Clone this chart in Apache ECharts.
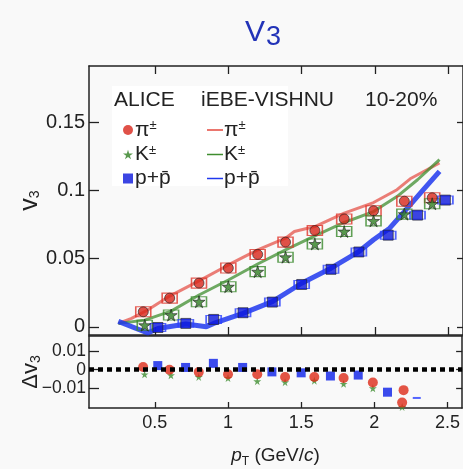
<!DOCTYPE html>
<html>
<head>
<meta charset="utf-8">
<script src="https://cdn.jsdelivr.net/npm/echarts@6/dist/echarts.min.js"></script>
<style>
  html, body { margin: 0; padding: 0; background: #f9f9f9; }
  #chart { width: 463px; height: 469px; }
</style>
</head>
<body>
<div id="chart"></div>
<script>
// ALICE data (10-20%), v3 vs pT
const pionPt = [0.42, 0.6, 0.8, 1.0, 1.2, 1.39, 1.59, 1.79, 1.99, 2.2, 2.39]
const pionV3 = [0.011, 0.021, 0.032, 0.043, 0.053, 0.062, 0.0705, 0.079, 0.085, 0.092, 0.0945]
const kaonPt = [0.43, 0.61, 0.8, 1.0, 1.2, 1.39, 1.59, 1.79, 1.99, 2.2, 2.39]
const kaonV3 = [0.0012, 0.0086, 0.0184, 0.0294, 0.0404, 0.051, 0.0607, 0.0698, 0.0776, 0.0825, 0.0901]
const protonPt = [0.52, 0.71, 0.9, 1.1, 1.3, 1.5, 1.7, 1.89, 2.09, 2.29, 2.48]
const protonV3 = [-0.0005, 0.0025, 0.0054, 0.0103, 0.0181, 0.031, 0.0421, 0.0548, 0.0671, 0.0818, 0.0928]

// iEBE-VISHNU curves
const hydroPionPt = [0.25, 0.34, 0.45, 0.6, 0.8, 1.0, 1.2, 1.39, 1.45, 1.59, 1.79, 1.99, 2.15, 2.24, 2.44]
const hydroPionV3 = [0.0025, 0.0062, 0.0123, 0.0225, 0.0336, 0.0453, 0.0563, 0.0649, 0.0698, 0.0734, 0.0833, 0.091, 0.1004, 0.1084, 0.12]
const hydroKaonPt = [0.25, 0.43, 0.61, 0.8, 1.0, 1.2, 1.39, 1.59, 1.79, 1.99, 2.15, 2.29, 2.44]
const hydroKaonV3 = [0.0025, 0.0049, 0.0115, 0.0233, 0.0343, 0.046, 0.0563, 0.0666, 0.0764, 0.0844, 0.0954, 0.1077, 0.1224]
const hydroProtonPt = [0.25, 0.45, 0.52, 0.71, 0.85, 0.9, 1.1, 1.3, 1.5, 1.7, 1.89, 1.99, 2.1, 2.2, 2.33, 2.44]
const hydroProtonV3 = [0.004, -0.0045, -0.0012, 0.002, 0.0, 0.0025, 0.0098, 0.0184, 0.0319, 0.0429, 0.0551, 0.0637, 0.0722, 0.0844, 0.1004, 0.1138]

// lower panel: data - model
const dPionPt = [0.42, 0.6, 0.8, 1.0, 1.2, 1.39, 1.59, 1.79, 1.99, 2.2, 2.19]
const dPion = [0.0014, 0.0, -0.0013, -0.0025, -0.0025, -0.0039, -0.0039, -0.0045, -0.0069, -0.011, -0.0177]
const dKaonPt = [0.43, 0.61, 0.8, 1.0, 1.2, 1.39, 1.59, 1.79, 1.99, 2.19]
const dKaon = [-0.0025, -0.003, -0.0039, -0.0045, -0.0062, -0.0067, -0.0059, -0.0076, -0.010, -0.020]
const dProtonPt = [0.52, 0.71, 0.9, 1.1, 1.3, 1.5, 1.7, 1.89, 2.09]
const dProton = [0.0022, 0.0012, 0.0034, 0.0012, -0.0012, -0.0017, -0.0034, -0.0029, -0.0121]
const dProtonDashPt = [2.29]
const dProtonDash = [-0.0152]

// ticks
const xTicks = [0.5, 1, 1.5, 2, 2.5]
const yTicks = [0, 0.05, 0.1, 0.15]
const dyTicks = [-0.01, 0, 0.01]

const zip = (xs, ys) => xs.map((x, i) => [x, ys[i]])
const STAR = 'path://M50,0 L61,35 L98,35 L68,57 L79,91 L50,70 L21,91 L32,57 L2,35 L39,35 Z'
const FONT = 'Liberation Sans'
const AXC = '#222'

const red = '#d8261a'
const green = '#2f7f22'
const blue = '#0b17dc'

let chart = echarts.init(document.getElementById('chart'))

let xBase = {
  type: 'value', min: 0.05, max: 2.6,
  axisLine: { show: true, onZero: false, lineStyle: { color: AXC, width: 1.5 } },
  axisTick: { show: true, inside: true, length: 8, customValues: xTicks, lineStyle: { color: AXC, width: 1.3 } },
  axisLabel: { show: false },
  splitLine: { show: false }
}
let yBase = {
  type: 'value',
  axisLine: { show: true, onZero: false, lineStyle: { color: AXC, width: 1.5 } },
  axisTick: { show: true, inside: true, length: 10, lineStyle: { color: AXC, width: 1.3 } },
  axisLabel: { show: false },
  splitLine: { show: false }
}
function minus(v) {
  return String(v).replace('-', '\u2212')
}
// legend labels with superscripts
const legendRich = {
  b: { fontFamily: FONT, fontSize: 21, color: '#222' },
  sup: { fontFamily: FONT, fontSize: 13, color: '#222', padding: [0, 0, 9, 0] }
}
const labelOf = {
  pi: '{b|\u03c0}{sup|\u00b1}',
  K: '{b|K}{sup|\u00b1}',
  p: '{b|p+p\u0304}'
}

let option = {
  backgroundColor: '#f9f9f9',
  animation: false,
  title: {
    text: '{v|V}{s|3}',
    left: 240, top: 9,
    textStyle: {
      rich: {
        v: { fontFamily: FONT, fontSize: 30, fontWeight: 'normal', color: '#2233b8' },
        s: { fontFamily: FONT, fontSize: 27, fontWeight: 'normal', color: '#2233b8', padding: [10, 0, 0, 1] }
      }
    }
  },
  grid: [
    { left: 89, top: 66, width: 378, height: 269 },
    { left: 89, top: 336, width: 378, height: 77 }
  ],
  xAxis: [
    Object.assign({}, xBase, { gridIndex: 0, position: 'bottom' }),
    Object.assign({}, xBase, { gridIndex: 0, position: 'top' }),
    Object.assign({}, xBase, {
      gridIndex: 1, position: 'bottom',
      axisTick: Object.assign({}, xBase.axisTick, { length: 6 }),
      axisLabel: { show: true, customValues: xTicks, margin: 6, fontFamily: FONT, fontSize: 18, color: '#222' },
      name: '{i|p}{sub|T}{n| (GeV/}{i|c}{n|)}',
      nameLocation: 'middle', nameGap: 36,
      nameTextStyle: {
        rich: {
          i: { fontFamily: FONT, fontSize: 19, fontStyle: 'italic', color: '#222' },
          n: { fontFamily: FONT, fontSize: 19, color: '#222' },
          sub: { fontFamily: FONT, fontSize: 12, color: '#222', padding: [12, 0, 0, 0] }
        }
      }
    }),
    Object.assign({}, xBase, { gridIndex: 1, position: 'top', axisTick: { show: false } })
  ],
  yAxis: [
    Object.assign({}, yBase, {
      gridIndex: 0, position: 'left', min: -0.006, max: 0.191,
      axisTick: Object.assign({}, yBase.axisTick, { customValues: yTicks }),
      axisLabel: { show: true, customValues: yTicks, margin: 4, fontFamily: FONT, fontSize: 20, color: '#222' },
      name: '{v|v}{s|3}', nameLocation: 'middle', nameRotate: 90, nameGap: 46, nameMoveOverlap: false,
      nameTextStyle: {
        rich: {
          v: { fontFamily: FONT, fontSize: 25, color: '#222' },
          s: { fontFamily: FONT, fontSize: 14, color: '#222', padding: [10, 0, 0, 0] }
        }
      }
    }),
    Object.assign({}, yBase, {
      gridIndex: 0, position: 'right', min: -0.006, max: 0.191,
      axisTick: Object.assign({}, yBase.axisTick, { customValues: yTicks, length: 6 })
    }),
    Object.assign({}, yBase, {
      gridIndex: 1, position: 'left', min: -0.0206, max: 0.0181,
      axisTick: Object.assign({}, yBase.axisTick, { customValues: dyTicks }),
      axisLabel: { show: true, customValues: dyTicks, margin: 3, fontFamily: FONT, fontSize: 17.5, color: '#222', formatter: minus },
      name: '{v|\u0394v}{s|3}', nameLocation: 'middle', nameRotate: 90, nameGap: 46, nameMoveOverlap: false,
      nameTextStyle: {
        rich: {
          v: { fontFamily: FONT, fontSize: 22, color: '#222' },
          s: { fontFamily: FONT, fontSize: 14, color: '#222', padding: [10, 0, 0, 0] }
        }
      }
    }),
    Object.assign({}, yBase, {
      gridIndex: 1, position: 'right', min: -0.0206, max: 0.0181,
      axisTick: Object.assign({}, yBase.axisTick, { customValues: dyTicks, length: 6 })
    })
  ],
  legend: [
    {
      data: ['ALICE pi', 'ALICE K', 'ALICE p'],
      orient: 'vertical', left: 118, top: 114,
      itemWidth: 10, itemHeight: 10, itemGap: 3,
      itemStyle: { borderWidth: 0 },
      formatter: name => labelOf[name.split(' ')[1]],
      textStyle: { fontFamily: FONT, fontSize: 21, color: '#222', lineHeight: 21, padding: [0, 0, 0, -3], rich: legendRich }
    },
    {
      data: ['VISHNU pi', 'VISHNU K', 'VISHNU p'],
      orient: 'vertical', left: 202, top: 114,
      icon: 'rect', itemWidth: 16, itemHeight: 1.5, itemGap: 3,
      formatter: name => labelOf[name.split(' ')[1]],
      textStyle: { fontFamily: FONT, fontSize: 21, color: '#222', lineHeight: 21, padding: [0, 0, 0, -4], rich: legendRich }
    }
  ],
  graphic: [
    { type: 'rect', z: 0, shape: { x: 112, y: 86, width: 176, height: 100 }, style: { fill: '#ffffff' } },
    { type: 'text', z: 5, x: 114, y: 90, style: { text: 'ALICE', font: '21px "Liberation Sans"', fill: '#222' } },
    { type: 'text', z: 5, x: 201, y: 90, style: { text: 'iEBE-VISHNU', font: '21px "Liberation Sans"', fill: '#222' } },
    { type: 'text', z: 5, x: 365, y: 90, style: { text: '10-20%', font: '21px "Liberation Sans"', fill: '#222' } }
  ],
  series: [
    // model curves
    { name: 'VISHNU pi', type: 'line', xAxisIndex: 0, yAxisIndex: 0, data: zip(hydroPionPt, hydroPionV3), symbol: 'none', color: '#e4493e', lineStyle: { width: 3, opacity: 0.7 }, z: 1 },
    { name: 'VISHNU K', type: 'line', xAxisIndex: 0, yAxisIndex: 0, data: zip(hydroKaonPt, hydroKaonV3), symbol: 'none', color: '#3f8d2f', lineStyle: { width: 3, opacity: 0.75 }, z: 1 },
    { name: 'VISHNU p', type: 'line', xAxisIndex: 0, yAxisIndex: 0, data: zip(hydroProtonPt, hydroProtonV3), symbol: 'none', color: '#2038ee', lineStyle: { width: 5, opacity: 0.85 }, z: 1 },
    // systematic boxes
    { type: 'scatter', xAxisIndex: 0, yAxisIndex: 0, data: zip(pionPt, pionV3), symbol: 'rect', symbolSize: [15, 10], itemStyle: { color: 'rgba(0,0,0,0)', borderColor: '#e0352a', borderWidth: 1.3 }, z: 2 },
    { type: 'scatter', xAxisIndex: 0, yAxisIndex: 0, data: zip(kaonPt, kaonV3), symbol: 'rect', symbolSize: [15, 10], itemStyle: { color: 'rgba(0,0,0,0)', borderColor: '#3a8a2c', borderWidth: 1.3 }, z: 2 },
    { type: 'scatter', xAxisIndex: 0, yAxisIndex: 0, data: zip(protonPt, protonV3), symbol: 'rect', symbolSize: [15, 8], itemStyle: { color: 'rgba(0,0,0,0)', borderColor: '#2a40ff', borderWidth: 1.3 }, z: 2 },
    // data points
    { name: 'ALICE pi', type: 'scatter', xAxisIndex: 0, yAxisIndex: 0, data: zip(pionPt, pionV3), symbol: 'circle', symbolSize: 10, color: red, itemStyle: { borderColor: '#222', borderWidth: 0.8 }, z: 3 },
    { name: 'ALICE K', type: 'scatter', xAxisIndex: 0, yAxisIndex: 0, data: zip(kaonPt, kaonV3), symbol: STAR, symbolSize: 12, color: green, itemStyle: { borderColor: '#222', borderWidth: 0.8 }, z: 3 },
    { name: 'ALICE p', type: 'scatter', xAxisIndex: 0, yAxisIndex: 0, data: zip(protonPt, protonV3), symbol: 'rect', symbolSize: 10, color: blue, itemStyle: { borderColor: '#222', borderWidth: 0.8 }, z: 3 },
    // lower panel
    {
      type: 'line', xAxisIndex: 2, yAxisIndex: 2, data: [], symbol: 'none',
      markLine: {
        silent: true, symbol: 'none', label: { show: false },
        lineStyle: { color: '#000', width: 4.5, type: [5, 4] },
        data: [{ yAxis: 0 }]
      }
    },
    { type: 'scatter', xAxisIndex: 2, yAxisIndex: 2, data: zip(dKaonPt, dKaon), symbol: STAR, symbolSize: 8, color: '#3f8d2f', z: 3 },
    { type: 'scatter', xAxisIndex: 2, yAxisIndex: 2, data: zip(dProtonPt, dProton), symbol: 'rect', symbolSize: 9, color: '#0a1ee8', z: 3 },
    { type: 'scatter', xAxisIndex: 2, yAxisIndex: 2, data: zip(dProtonDashPt, dProtonDash), symbol: 'rect', symbolSize: [8, 2], color: '#2a40ff', z: 3 },
    { type: 'scatter', xAxisIndex: 2, yAxisIndex: 2, data: zip(dPionPt, dPion), symbol: 'circle', symbolSize: 10, color: '#dd2a18', z: 4 }
  ]
}
chart.setOption(option)
</script>
</body>
</html>
